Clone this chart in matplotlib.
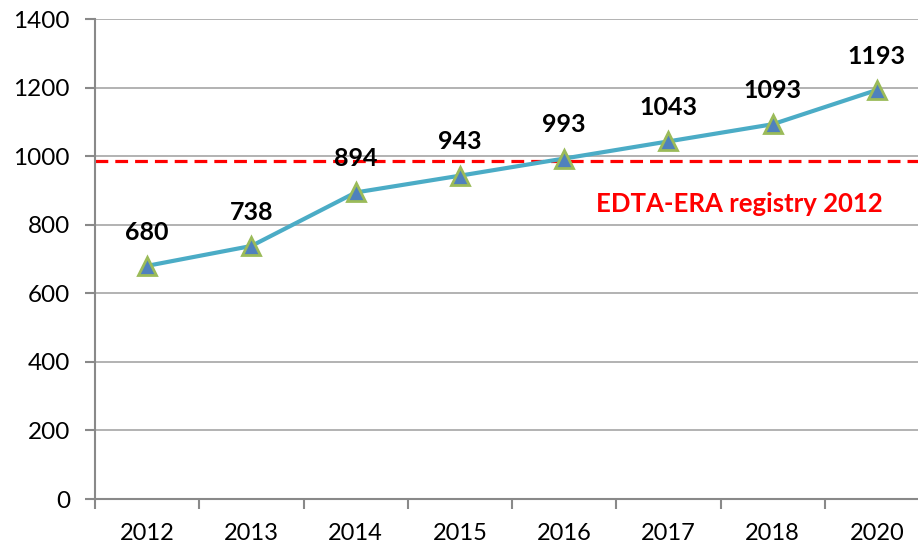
import matplotlib
matplotlib.use('Agg')
import matplotlib.pyplot as plt
import numpy as np

# chart data
years = ['2012', '2013', '2014', '2015', '2016', '2017', '2018', '2020']
values = [680, 738, 894, 943, 993, 1043, 1093, 1193]
registry_level = 985
registry_label = 'EDTA-ERA registry 2012'

plt.rcParams['font.family'] = ['Lato', 'DejaVu Sans']

fig = plt.figure(figsize=(9.18, 5.46), dpi=100)
# the plot area runs slightly past the right edge of the image
ax = fig.add_axes([95 / 918, 47 / 546, 834 / 918, 480 / 546])

grey = '#898989'
x = np.arange(len(years))

# gridlines
ax.set_ylim(0, 1400)
ax.set_yticks(np.arange(0, 1401, 200))
ax.yaxis.grid(True, color='#A6A6A6', linewidth=1.2)
ax.set_axisbelow(True)

# reference line
ax.axhline(registry_level, color='#FF0000', linewidth=2.3, linestyle=(0, (4, 2.2)), zorder=2)
ax.text(5.68, 860, registry_label, color='#FF0000', fontsize=18.5, fontweight='bold',
        ha='center', va='center')

# series
ax.plot(x, values, color='#4BACC6', linewidth=3, marker='^', markersize=13,
        markerfacecolor='#4F81BD', markeredgecolor='#9BBB59', markeredgewidth=2, zorder=3)

for xi, v in zip(x, values):
    ax.annotate(str(v), (xi, v), xytext=(0, 16), textcoords='offset points',
                ha='center', va='bottom', fontsize=18, fontweight='bold', color='black')

# category axis with tick marks between categories
ax.set_xlim(-0.5, len(years) - 0.5)
ax.set_xticks(np.arange(-0.5, len(years)), labels=[''] * (len(years) + 1))
ax.set_xticks(x, labels=years, minor=True)
ax.tick_params(axis='x', which='major', length=7, width=1.5, color=grey, direction='out')
ax.tick_params(axis='x', which='minor', length=0, labelsize=17, pad=17)
ax.tick_params(axis='y', length=7, width=1.5, color=grey, labelsize=17.5, pad=11)

for side in ['top', 'right']:
    ax.spines[side].set_visible(False)
for side in ['left', 'bottom']:
    ax.spines[side].set_color(grey)
    ax.spines[side].set_linewidth(1.5)

fig.savefig('out.png', dpi=100)
